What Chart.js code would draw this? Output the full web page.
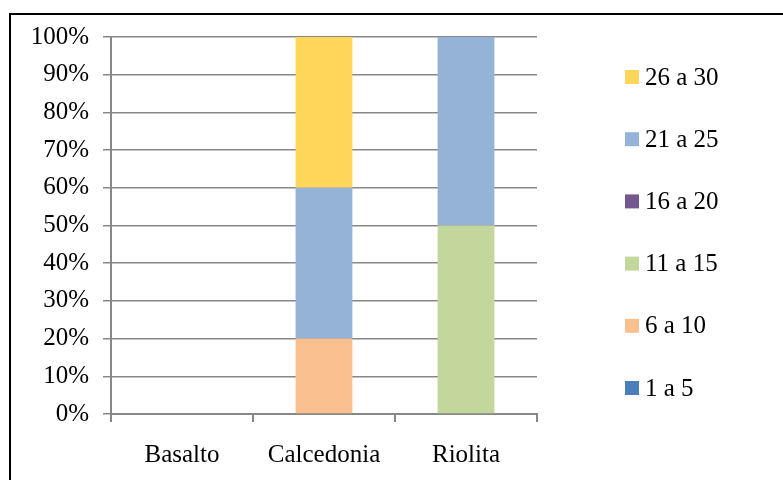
<!DOCTYPE html>
<html>
<head>
<meta charset="utf-8">
<script src="https://cdn.jsdelivr.net/npm/chart.js@4/dist/chart.umd.min.js"></script>
<style>
  html, body { margin: 0; padding: 0; background: #fff; }
  #wrap { position: relative; width: 783px; height: 480px; }
</style>
</head>
<body>
<div id="wrap"><canvas id="c" width="783" height="480"></canvas></div>
<script>
// Rock types and percentage share for each size class (stacked to 100%)
const categories = ['Basalto', 'Calcedonia', 'Riolita'];
const seriesNames = ['1 a 5', '6 a 10', '11 a 15', '16 a 20', '21 a 25', '26 a 30'];
const s1a5   = [0, 0, 0];
const s6a10  = [0, 20, 0];
const s11a15 = [0, 0, 50];
const s16a20 = [0, 0, 0];
const s21a25 = [0, 40, 50];
const s26a30 = [0, 40, 0];
const yTicks = [0, 10, 20, 30, 40, 50, 60, 70, 80, 90, 100];

const colors = ['#4A7EBB', '#FAC090', '#C3D69B', '#72588F', '#95B3D7', '#FFD55A'];
const values = [s1a5, s6a10, s11a15, s16a20, s21a25, s26a30];

const FONT = "'Liberation Serif', 'Times New Roman', serif";
const FSIZE = 25;

const datasets = seriesNames.map((name, i) => ({
  label: name,
  data: values[i],
  backgroundColor: colors[i],
  borderWidth: 0,
  barPercentage: 0.4,
  categoryPercentage: 1.0
}));

// Outer frame and a legend listed from the top series down
const framePlugin = {
  id: 'frame',
  afterDraw(chart) {
    const ctx = chart.ctx;
    ctx.save();
    ctx.strokeStyle = '#000';
    ctx.lineWidth = 2;
    ctx.beginPath();
    ctx.moveTo(10, 490);
    ctx.lineTo(10, 14);
    ctx.lineTo(790, 14);
    ctx.stroke();

    const ds = chart.data.datasets;
    ctx.font = FSIZE + 'px ' + FONT;
    ctx.textBaseline = 'middle';
    ctx.textAlign = 'left';
    for (let k = 0; k < ds.length; k++) {
      const d = ds[ds.length - 1 - k];
      const cy = 77 + k * 62.2;
      ctx.fillStyle = d.backgroundColor;
      ctx.fillRect(625, cy - 7, 14, 14);
      ctx.fillStyle = '#000';
      ctx.fillText(d.label, 645, cy + 1);
    }
    ctx.restore();
  }
};

new Chart(document.getElementById('c'), {
  type: 'bar',
  data: { labels: categories, datasets },
  options: {
    responsive: false,
    animation: false,
    layout: { padding: { left: 0, top: 37, right: 246, bottom: 0 } },
    plugins: { legend: { display: false }, tooltip: { enabled: false } },
    scales: {
      x: {
        stacked: true,
        afterFit: s => { s.height = 66; },
        grid: {
          offset: true,
          drawOnChartArea: false,
          drawTicks: true,
          tickLength: 8,
          color: '#878787',
          lineWidth: 2
        },
        border: { color: '#878787', width: 2 },
        ticks: { color: '#000', font: { family: FONT, size: FSIZE }, padding: 18 }
      },
      y: {
        stacked: true,
        min: 0,
        max: 100,
        afterFit: s => { s.width = 111; },
        afterBuildTicks: s => { s.ticks = yTicks.map(v => ({ value: v })); },
        grid: { color: '#878787', lineWidth: 1.5, tickLength: 8 },
        border: { color: '#878787', width: 2 },
        ticks: {
          color: '#000',
          font: { family: FONT, size: FSIZE },
          padding: 14,
          callback: v => v + '%'
        }
      }
    }
  },
  plugins: [framePlugin]
});
</script>
</body>
</html>
